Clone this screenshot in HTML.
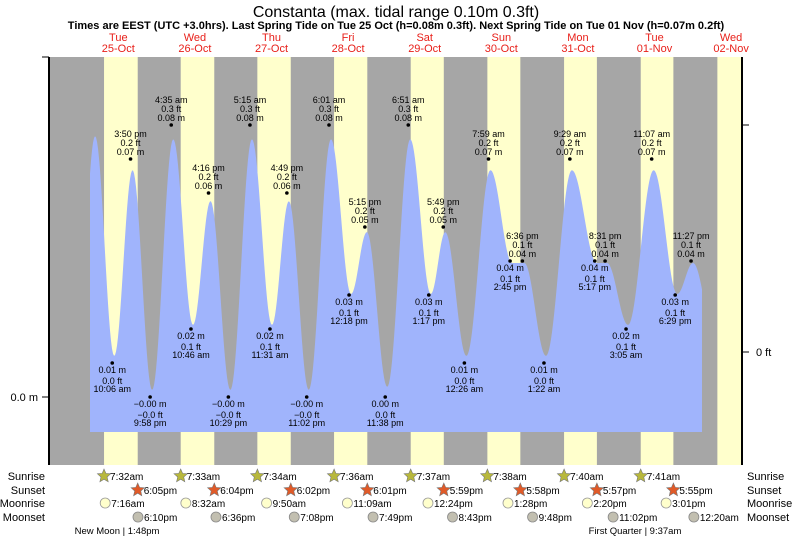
<!DOCTYPE html>
<html><head><meta charset="utf-8"><style>
html,body{margin:0;padding:0;background:#fff;}
svg{display:block;font-family:"Liberation Sans",sans-serif;}
</style></head><body>
<svg id="chart" width="793" height="539" viewBox="0 0 793 539" xmlns="http://www.w3.org/2000/svg">
<text x="396" y="17" font-size="16" text-anchor="middle">Constanta (max. tidal range 0.10m 0.3ft)</text>
<text x="396" y="29" font-size="11" font-weight="bold" text-anchor="middle">Times are EEST (UTC +3.0hrs). Last Spring Tide on Tue 25 Oct (h=0.08m 0.3ft). Next Spring Tide on Tue 01 Nov (h=0.07m 0.2ft)</text>
<g id="bands"></g>
<g id="tide"></g>
<g id="labels"></g>
<g id="axes"></g>
<g id="days"></g>
<g id="sun"></g>
</svg>
<script>
const dayNames=["Tue","Wed","Thu","Fri","Sat","Sun","Mon","Tue","Wed"];
const dayDates=["25-Oct","26-Oct","27-Oct","28-Oct","29-Oct","30-Oct","31-Oct","01-Nov","02-Nov"];
const sunrise=["7:32am","7:33am","7:34am","7:36am","7:37am","7:38am","7:40am","7:41am","7:42am"];
const sunset=["6:05pm","6:04pm","6:02pm","6:01pm","5:59pm","5:58pm","5:57pm","5:55pm"];
const moonrise=["7:16am","8:32am","9:50am","11:09am","12:24pm","1:28pm","2:20pm","3:01pm"];
const moonsetDay=[0,1,2,3,4,5,6,8];
const moonset=["6:10pm","6:36pm","7:08pm","7:49pm","8:43pm","9:48pm","11:02pm","12:20am"];
const tideDay=[0,0,0,1,1,1,1,2,2,2,2,3,3,3,3,4,4,4,5,5,5,5,6,6,6,6,7,7,7,7];
const tideTime=["10:06 am","3:50 pm","9:58 pm","4:35 am","10:46 am","4:16 pm","10:29 pm","5:15 am","11:31 am","4:49 pm","11:02 pm","6:01 am","12:18 pm","5:15 pm","11:38 pm","6:51 am","1:17 pm","5:49 pm","12:26 am","7:59 am","2:45 pm","6:36 pm","1:22 am","9:29 am","5:17 pm","8:31 pm","3:05 am","11:07 am","6:29 pm","11:27 pm"];
const tideHeight=[0.01,0.07,-0.001,0.08,0.02,0.06,-0.001,0.08,0.02,0.06,-0.001,0.08,0.03,0.05,0.0,0.08,0.03,0.05,0.01,0.07,0.04,0.04,0.01,0.07,0.04,0.04,0.02,0.07,0.03,0.04];
const tideLabelM=["0.01 m","0.07 m","\u22120.00 m","0.08 m","0.02 m","0.06 m","\u22120.00 m","0.08 m","0.02 m","0.06 m","\u22120.00 m","0.08 m","0.03 m","0.05 m","0.00 m","0.08 m","0.03 m","0.05 m","0.01 m","0.07 m","0.04 m","0.04 m","0.01 m","0.07 m","0.04 m","0.04 m","0.02 m","0.07 m","0.03 m","0.04 m"];
const tideLabelFt=["0.0 ft","0.2 ft","\u22120.0 ft","0.3 ft","0.1 ft","0.2 ft","\u22120.0 ft","0.3 ft","0.1 ft","0.2 ft","\u22120.0 ft","0.3 ft","0.1 ft","0.2 ft","0.0 ft","0.3 ft","0.1 ft","0.2 ft","0.0 ft","0.2 ft","0.1 ft","0.1 ft","0.0 ft","0.2 ft","0.1 ft","0.1 ft","0.1 ft","0.2 ft","0.1 ft","0.1 ft"];
const NS="http://www.w3.org/2000/svg";
const PX_DAY=76.6, X0=80, Y0=397, PX_M=3400, TOP=57, BOT=465, LEFT=49, RIGHT=742;
function parseT(s){const m=s.match(/(\d+):(\d+)\s*(am|pm)/);let h=+m[1]%12;if(m[3]=="pm")h+=12;return h+ +m[2]/60;}
function xT(day,s){return X0+(day+parseT(s)/24)*PX_DAY;}
function yH(h){return Y0-h*PX_M;}
function mk(tag,attrs,parent,txt){const e=document.createElementNS(NS,tag);for(const k in attrs)e.setAttribute(k,attrs[k]);if(txt!==undefined)e.textContent=txt;parent.appendChild(e);return e;}
const bands=document.getElementById('bands');
let r=mk('rect',{x:LEFT,y:TOP,width:RIGHT-LEFT,height:BOT-TOP,fill:'#a6a6a6'},bands);


for(let d=0;d<9;d++){
  const x1=xT(d,sunrise[d]);
  const x2=d<sunset.length?xT(d,sunset[d]):RIGHT;
  const b=mk('rect',{x:x1,y:TOP,width:Math.min(x2,RIGHT)-x1,height:BOT-TOP,fill:'#ffffcc'},bands);
  
  
}
const pts=[[-2,0.005],[4.1,0.081]];
for(let i=0;i<tideDay.length;i++)pts.push([tideDay[i]*24+parseT(tideTime[i]),tideHeight[i]]);
pts.push([199,0.012]);
const cx1=90,cx2=702;let d="M"+cx1+","+432;
for(let x=cx1;x<=cx2;x+=1){
  const t=(x-2-X0)/PX_DAY*24;
  let h=0;
  for(let i=0;i<pts.length-1;i++){if(t>=pts[i][0]&&t<=pts[i+1][0]){const f=(t-pts[i][0])/(pts[i+1][0]-pts[i][0]);h=pts[i][1]+(pts[i+1][1]-pts[i][1])*(1-Math.cos(Math.PI*f))/2;break;}}
  h=0.003+0.91*h;
  d+=" L"+x+","+yH(h).toFixed(1);
}
d+=" L"+cx2+",432 Z";
const tp=mk('path',{d:d,fill:'#a0b4fc'},document.getElementById('tide'));


const lab=document.getElementById('labels');
for(let i=0;i<tideDay.length;i++){
  const x=xT(tideDay[i],tideTime[i]);const y=yH(Math.max(tideHeight[i],0));
  const high=(i%2===1);
  const c=mk('circle',{cx:x,cy:y,r:1.8,fill:'#000'},lab);
  
  
  const lines=high?[[tideTime[i],-22],[tideLabelFt[i],-13],[tideLabelM[i],-4]]:[[tideLabelM[i],10],[tideLabelFt[i],21],[tideTime[i],29]];
  for(const [s,dy] of lines){
    const t=mk('text',{x:x,y:y+dy,'font-size':9,'text-anchor':'middle',fill:'#000'},lab,s);
    
    
  }
}
const ax=document.getElementById('axes');
let a=mk('line',{x1:LEFT,y1:TOP,x2:LEFT,y2:BOT,stroke:'#000','stroke-width':2},ax);

a=mk('line',{x1:RIGHT,y1:TOP,x2:RIGHT,y2:BOT,stroke:'#000','stroke-width':2},ax);

a=mk('line',{x1:42,y1:TOP,x2:LEFT,y2:TOP,stroke:'#000'},ax);

a=mk('line',{x1:42,y1:Y0,x2:LEFT,y2:Y0,stroke:'#000'},ax);

a=mk('text',{x:38,y:Y0+4,'font-size':11,'text-anchor':'end'},ax,'0.0 m');

a=mk('line',{x1:RIGHT,y1:125,x2:749,y2:125,stroke:'#000'},ax);

a=mk('line',{x1:RIGHT,y1:352,x2:749,y2:352,stroke:'#000'},ax);

a=mk('text',{x:756,y:356,'font-size':11},ax,'0 ft');

const dl=document.getElementById('days');
for(let i=0;i<9;i++){
  const x=X0+(i+0.5)*PX_DAY;
  let t=mk('text',{x:x,y:41,'font-size':11,'text-anchor':'middle',fill:'#e8201a'},dl,dayNames[i]);
  
  t=mk('text',{x:x,y:52,'font-size':11,'text-anchor':'middle',fill:'#e8201a'},dl,dayDates[i]);
  
}
const sg=document.getElementById('sun');
const rows=[["Sunrise",480],["Sunset",494],["Moonrise",507],["Moonset",521]];
for(const [n,y] of rows){
  let t=mk('text',{x:45,y:y,'font-size':11,'text-anchor':'end'},sg,n);
  
  t=mk('text',{x:747,y:y,'font-size':11},sg,n);
  
}
function star(x,y,fill){let p="";for(let k=0;k<10;k++){const rr=k%2?3.2:7;const an=-Math.PI/2+k*Math.PI/5;p+=(x+rr*Math.cos(an)).toFixed(1)+","+(y+rr*Math.sin(an)).toFixed(1)+" ";}return mk('polygon',{points:p,fill:fill,stroke:'#777','stroke-width':0.6},sg);}
for(let i=0;i<8;i++){
  let x=xT(i,sunrise[i]);
  let s=star(x,476,'#b8b83c');
  let t=mk('text',{x:x+6,y:480,'font-size':10},sg,sunrise[i]);
  x=xT(i,sunset[i]);
  s=star(x,490,'#e05a28');
  t=mk('text',{x:x+6,y:494,'font-size':10},sg,sunset[i]);
  x=xT(i,moonrise[i]);
  let c=mk('circle',{cx:x+2,cy:503,r:5,fill:'#ffffcc',stroke:'#999','stroke-width':0.8},sg);
  t=mk('text',{x:x+8,y:507,'font-size':10},sg,moonrise[i]);
  x=xT(moonsetDay[i],moonset[i]);
  c=mk('circle',{cx:x,cy:517,r:5,fill:'#c2bfb0',stroke:'#888','stroke-width':0.8},sg);
  t=mk('text',{x:x+6,y:521,'font-size':10},sg,moonset[i]);
}
let ph=mk('text',{x:117,y:534,'font-size':9.5,'text-anchor':'middle'},sg,'New Moon | 1:48pm');

ph=mk('text',{x:635,y:534,'font-size':9.5,'text-anchor':'middle'},sg,'First Quarter | 9:37am');

</script>
</body></html>
